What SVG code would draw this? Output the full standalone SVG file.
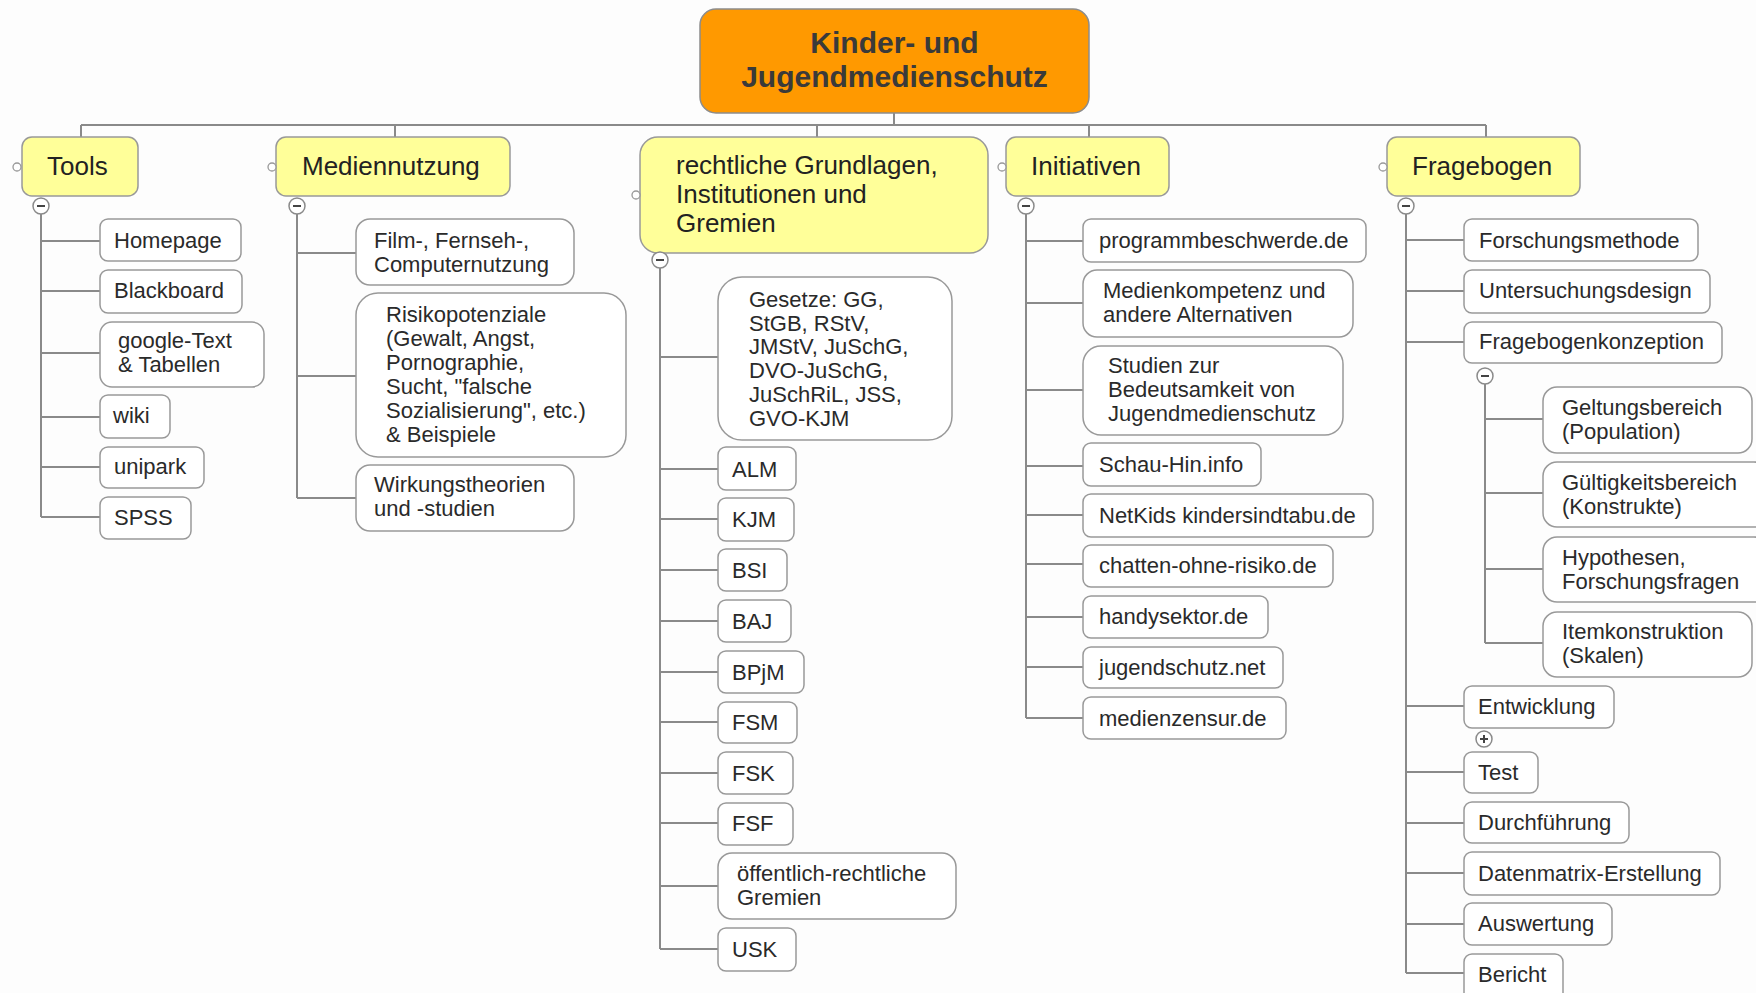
<svg xmlns="http://www.w3.org/2000/svg" width="1756" height="993" viewBox="0 0 1756 993">
<style>
.bg{fill:#fdfdfd}
.root{fill:#ff9900;stroke:#8c8c8c;stroke-width:1.5}
.rt{font-family:"Liberation Sans",Arial,sans-serif;font-weight:bold;font-size:30px;fill:#3a3a3a;text-anchor:middle}
.l1{fill:#ffff99;stroke:#999;stroke-width:1.5}
.t1{font-family:"Liberation Sans",Arial,sans-serif;font-size:26px;fill:#222}
.l2{fill:#fff;stroke:#999;stroke-width:1.5}
.t2{font-family:"Liberation Sans",Arial,sans-serif;font-size:22px;fill:#2a2a2a}
.c{fill:none;stroke:#8a8a8a;stroke-width:2}
.dot{fill:#fff;stroke:#999;stroke-width:1.3}
.tg{fill:#fff;stroke:#8a8a8a;stroke-width:1.5}
.tgs{stroke:#444;stroke-width:2}
</style>
<defs>
<g id="minus"><circle class="tg" r="8"/><line class="tgs" x1="-4" y1="0" x2="4" y2="0"/></g>
<g id="plus"><circle class="tg" r="8"/><line class="tgs" x1="-4" y1="0" x2="4" y2="0"/><line class="tgs" x1="0" y1="-4" x2="0" y2="4"/></g>
</defs>
<rect class="bg" x="0" y="0" width="1756" height="993"/>

<g id="connectors">
<path class="c" d="M894 113V125M81 125H1486M81 125V137M395 125V137M817 125V137M1089 125V137M1486 125V137"/>
<path class="c" d="M41 214V517M41 241H100M41 291H100M41 353H100M41 417H100M41 467H100M41 517H100"/>
<path class="c" d="M297 214V498M297 253H356M297 376H356M297 498H356"/>
<path class="c" d="M660 268V949M660 357H718M660 469H718M660 519H718M660 570H718M660 621H718M660 672H718M660 722H718M660 773H718M660 823H718M660 886H718M660 949H718"/>
<path class="c" d="M1026 214V718M1026 241H1083M1026 303H1083M1026 390H1083M1026 466H1083M1026 515H1083M1026 564H1083M1026 617H1083M1026 667H1083M1026 718H1083"/>
<path class="c" d="M1406 214V973M1406 240H1464M1406 291H1464M1406 342H1464M1406 706H1464M1406 772H1464M1406 823H1464M1406 873H1464M1406 924H1464M1406 973H1464"/>
<path class="c" d="M1485 384V643M1485 419H1543M1485 493H1543M1485 569H1543M1485 643H1543"/>
</g>

<g id="root">
<rect class="root" x="700" y="9" width="389" height="104" rx="16"/>
<text class="rt" x="894.5" y="53">Kinder- und</text>
<text class="rt" x="894.5" y="87">Jugendmedienschutz</text>
</g>

<g id="tools">
<rect class="l1" x="22" y="137" width="116" height="59" rx="10"/>
<circle class="dot" cx="17" cy="167" r="4"/>
<text class="t1" x="47" y="175">Tools</text>
<use href="#minus" x="41" y="206"/>
</g>
<g id="mediennutzung">
<rect class="l1" x="276" y="137" width="234" height="59" rx="10"/>
<circle class="dot" cx="272" cy="167" r="4"/>
<text class="t1" x="302" y="175">Mediennutzung</text>
<use href="#minus" x="297" y="206"/>
</g>
<g id="rechtliche">
<rect class="l1" x="640" y="137" width="348" height="116" rx="18"/>
<circle class="dot" cx="636" cy="195" r="4"/>
<text class="t1" x="676" y="174">rechtliche Grundlagen,</text>
<text class="t1" x="676" y="203">Institutionen und</text>
<text class="t1" x="676" y="232">Gremien</text>
<use href="#minus" x="660" y="260"/>
</g>
<g id="initiativen">
<rect class="l1" x="1006" y="137" width="163" height="59" rx="10"/>
<circle class="dot" cx="1002" cy="167" r="4"/>
<text class="t1" x="1031" y="175">Initiativen</text>
<use href="#minus" x="1026" y="206"/>
</g>
<g id="fragebogen">
<rect class="l1" x="1387" y="137" width="193" height="59" rx="10"/>
<circle class="dot" cx="1383" cy="167" r="4"/>
<text class="t1" x="1412" y="175">Fragebogen</text>
<use href="#minus" x="1406" y="206"/>
</g>

<g id="homepage"><rect class="l2" x="100" y="219" width="141" height="42" rx="8"/><text class="t2" x="114" y="248">Homepage</text></g>
<g id="blackboard"><rect class="l2" x="100" y="270" width="142" height="43" rx="8"/><text class="t2" x="114" y="298">Blackboard</text></g>
<g id="google"><rect class="l2" x="100" y="322" width="164" height="65" rx="12"/><text class="t2" x="118" y="348">google-Text</text><text class="t2" x="118" y="372">&amp; Tabellen</text></g>
<g id="wiki"><rect class="l2" x="100" y="395" width="70" height="43" rx="8"/><text class="t2" x="113" y="423">wiki</text></g>
<g id="unipark"><rect class="l2" x="100" y="447" width="104" height="41" rx="8"/><text class="t2" x="114" y="474">unipark</text></g>
<g id="spss"><rect class="l2" x="100" y="497" width="91" height="42" rx="8"/><text class="t2" x="114" y="525">SPSS</text></g>

<g id="film"><rect class="l2" x="356" y="219" width="218" height="66" rx="14"/><text class="t2" x="374" y="248">Film-, Fernseh-,</text><text class="t2" x="374" y="272">Computernutzung</text></g>
<g id="risiko"><rect class="l2" x="356" y="293" width="270" height="164" rx="22"/>
<text class="t2" x="386" y="322">Risikopotenziale</text>
<text class="t2" x="386" y="346">(Gewalt, Angst,</text>
<text class="t2" x="386" y="370">Pornographie,</text>
<text class="t2" x="386" y="394">Sucht, "falsche</text>
<text class="t2" x="386" y="418">Sozialisierung", etc.)</text>
<text class="t2" x="386" y="442">&amp; Beispiele</text></g>
<g id="wirkung"><rect class="l2" x="356" y="465" width="218" height="66" rx="14"/><text class="t2" x="374" y="492">Wirkungstheorien</text><text class="t2" x="374" y="516">und -studien</text></g>

<g id="gesetze"><rect class="l2" x="718" y="277" width="234" height="163" rx="24"/>
<text class="t2" x="749" y="307">Gesetze: GG,</text>
<text class="t2" x="749" y="331">StGB, RStV,</text>
<text class="t2" x="749" y="354">JMStV, JuSchG,</text>
<text class="t2" x="749" y="378">DVO-JuSchG,</text>
<text class="t2" x="749" y="402">JuSchRiL, JSS,</text>
<text class="t2" x="749" y="426">GVO-KJM</text></g>
<g id="alm"><rect class="l2" x="718" y="447" width="78" height="43" rx="8"/><text class="t2" x="732" y="477">ALM</text></g>
<g id="kjm"><rect class="l2" x="718" y="498" width="76" height="43" rx="8"/><text class="t2" x="732" y="527">KJM</text></g>
<g id="bsi"><rect class="l2" x="718" y="549" width="69" height="42" rx="8"/><text class="t2" x="732" y="578">BSI</text></g>
<g id="baj"><rect class="l2" x="718" y="600" width="73" height="42" rx="8"/><text class="t2" x="732" y="629">BAJ</text></g>
<g id="bpjm"><rect class="l2" x="718" y="651" width="86" height="42" rx="8"/><text class="t2" x="732" y="680">BPjM</text></g>
<g id="fsm"><rect class="l2" x="718" y="702" width="79" height="41" rx="8"/><text class="t2" x="732" y="730">FSM</text></g>
<g id="fsk"><rect class="l2" x="718" y="752" width="75" height="42" rx="8"/><text class="t2" x="732" y="781">FSK</text></g>
<g id="fsf"><rect class="l2" x="718" y="803" width="75" height="42" rx="8"/><text class="t2" x="732" y="831">FSF</text></g>
<g id="oeffentlich"><rect class="l2" x="718" y="853" width="238" height="66" rx="14"/><text class="t2" x="737" y="881">öffentlich-rechtliche</text><text class="t2" x="737" y="905">Gremien</text></g>
<g id="usk"><rect class="l2" x="718" y="928" width="78" height="43" rx="8"/><text class="t2" x="732" y="957">USK</text></g>

<g id="programmbeschwerde"><rect class="l2" x="1083" y="219" width="283" height="43" rx="8"/><text class="t2" x="1099" y="248">programmbeschwerde.de</text></g>
<g id="medienkompetenz"><rect class="l2" x="1083" y="270" width="270" height="67" rx="14"/><text class="t2" x="1103" y="298">Medienkompetenz und</text><text class="t2" x="1103" y="322">andere Alternativen</text></g>
<g id="studien"><rect class="l2" x="1083" y="346" width="260" height="89" rx="18"/><text class="t2" x="1108" y="373">Studien zur</text><text class="t2" x="1108" y="397">Bedeutsamkeit von</text><text class="t2" x="1108" y="421">Jugendmedienschutz</text></g>
<g id="schauhin"><rect class="l2" x="1083" y="443" width="178" height="43" rx="8"/><text class="t2" x="1099" y="472">Schau-Hin.info</text></g>
<g id="netkids"><rect class="l2" x="1083" y="494" width="290" height="43" rx="8"/><text class="t2" x="1099" y="523">NetKids kindersindtabu.de</text></g>
<g id="chatten"><rect class="l2" x="1083" y="545" width="250" height="42" rx="8"/><text class="t2" x="1099" y="573">chatten-ohne-risiko.de</text></g>
<g id="handysektor"><rect class="l2" x="1083" y="596" width="185" height="42" rx="8"/><text class="t2" x="1099" y="624">handysektor.de</text></g>
<g id="jugendschutz"><rect class="l2" x="1083" y="647" width="200" height="41" rx="8"/><text class="t2" x="1099" y="675">jugendschutz.net</text></g>
<g id="medienzensur"><rect class="l2" x="1083" y="697" width="203" height="42" rx="8"/><text class="t2" x="1099" y="726">medienzensur.de</text></g>

<g id="forschungsmethode"><rect class="l2" x="1464" y="219" width="234" height="42" rx="8"/><text class="t2" x="1479" y="248">Forschungsmethode</text></g>
<g id="untersuchungsdesign"><rect class="l2" x="1464" y="270" width="246" height="43" rx="8"/><text class="t2" x="1479" y="298">Untersuchungsdesign</text></g>
<g id="konzeption"><rect class="l2" x="1464" y="322" width="258" height="41" rx="8"/><text class="t2" x="1479" y="349">Fragebogenkonzeption</text>
<use href="#minus" x="1485" y="376"/></g>
<g id="geltung"><rect class="l2" x="1543" y="387" width="209" height="66" rx="14"/><text class="t2" x="1562" y="415">Geltungsbereich</text><text class="t2" x="1562" y="439">(Population)</text></g>
<g id="gueltigkeit"><rect class="l2" x="1543" y="462" width="225" height="65" rx="14"/><text class="t2" x="1562" y="490">Gültigkeitsbereich</text><text class="t2" x="1562" y="514">(Konstrukte)</text></g>
<g id="hypothesen"><rect class="l2" x="1543" y="537" width="225" height="65" rx="14"/><text class="t2" x="1562" y="565">Hypothesen,</text><text class="t2" x="1562" y="589">Forschungsfragen</text></g>
<g id="item"><rect class="l2" x="1543" y="612" width="209" height="65" rx="14"/><text class="t2" x="1562" y="639">Itemkonstruktion</text><text class="t2" x="1562" y="663">(Skalen)</text></g>
<g id="entwicklung"><rect class="l2" x="1464" y="686" width="150" height="42" rx="8"/><text class="t2" x="1478" y="714">Entwicklung</text>
<use href="#plus" x="1484" y="739"/></g>
<g id="test"><rect class="l2" x="1464" y="752" width="74" height="41" rx="8"/><text class="t2" x="1478" y="780">Test</text></g>
<g id="durchfuehrung"><rect class="l2" x="1464" y="802" width="165" height="41" rx="8"/><text class="t2" x="1478" y="830">Durchführung</text></g>
<g id="datenmatrix"><rect class="l2" x="1464" y="852" width="256" height="43" rx="8"/><text class="t2" x="1478" y="881">Datenmatrix-Erstellung</text></g>
<g id="auswertung"><rect class="l2" x="1464" y="903" width="148" height="42" rx="8"/><text class="t2" x="1478" y="931">Auswertung</text></g>
<g id="bericht"><rect class="l2" x="1464" y="954" width="99" height="50" rx="8"/><text class="t2" x="1478" y="982">Bericht</text></g>
</svg>
